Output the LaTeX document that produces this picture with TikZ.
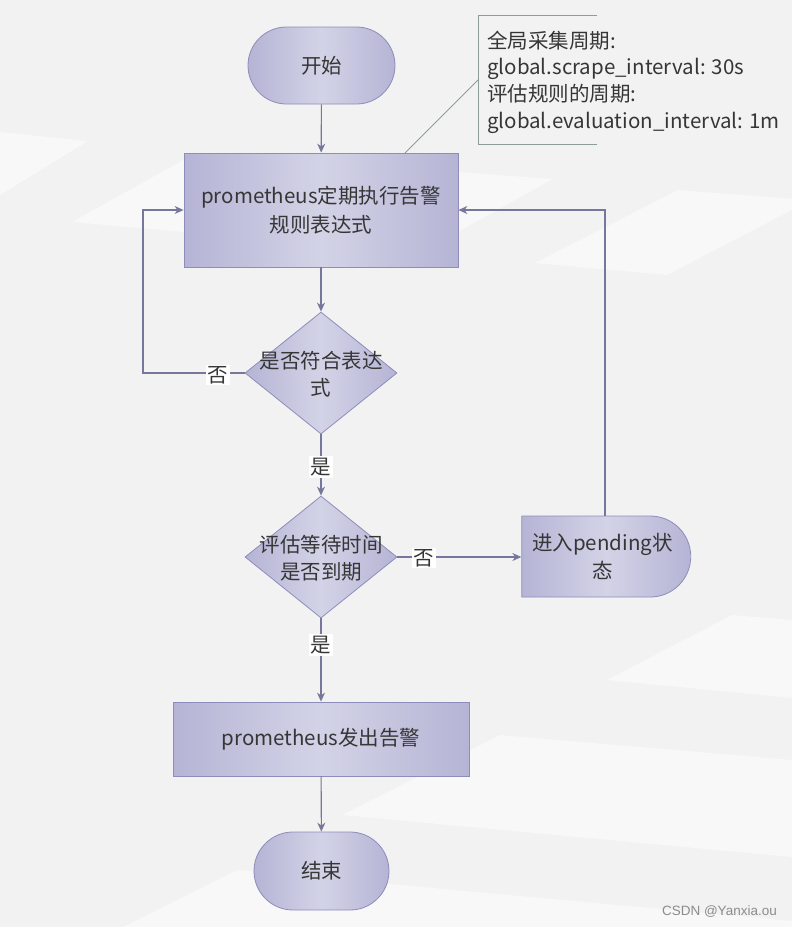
\documentclass[tikz,border=0pt]{standalone}
\usepackage{fontspec}
\setmainfont{Noto Sans CJK SC}
\newfontfamily\wmfont{Liberation Sans}
\usetikzlibrary{shapes.geometric,shapes.misc,arrows.meta}
\definecolor{bg}{HTML}{F2F2F2}
\definecolor{band}{HTML}{F8F8F8}
\definecolor{nEdge}{HTML}{B5B4D5}
\definecolor{nMid}{HTML}{D3D3E7}
\definecolor{nBorder}{HTML}{8E8CBA}
\definecolor{conn}{HTML}{77779C}
\definecolor{txt}{HTML}{363636}
\definecolor{notec}{HTML}{8C9C98}
\definecolor{wm}{HTML}{8C8C8C}
\begin{document}
\begin{tikzpicture}[x=1pt,y=-1pt,
  fillshade/.style={left color=nEdge,right color=nEdge,middle color=nMid},
  base/.style={draw=nBorder,line width=0.8pt,fillshade,text=txt,font=\fontsize{20.5}{28.5}\selectfont,align=center,inner sep=0pt},
  terminal/.style={base,rounded rectangle,minimum height=77pt},
  procbox/.style={base,rectangle},
  decision/.style={base,diamond,minimum width=152pt,minimum height=122pt},
  dtext/.style={text=txt,font=\fontsize{20.5}{27}\selectfont,align=center,inner sep=0pt},
  lab/.style={fill=white,text=txt,font=\fontsize{20.5}{24}\selectfont,inner sep=1.5pt},
  arr/.style={draw=conn,line width=1.1pt,-{Stealth[length=9pt,width=8pt]}},
  notetext/.style={text=txt,font=\fontsize{20.5}{26.7}\selectfont,align=left,inner sep=0pt,anchor=west},
]
\useasboundingbox (0,0) rectangle (792,927);
% background
\fill[bg] (0,0) rectangle (792,927);
\fill[band] (0,132) -- (88,141) -- (0,195) -- cycle;
\fill[band] (196,153) -- (553,179) -- (420,253) -- (72,222) -- cycle;
\fill[band] (535,263) -- (678,190) -- (792,199) -- (792,210) -- (667,275) -- cycle;
\fill[band] (607,680) -- (732,615) -- (792,620) -- (792,698) -- cycle;
\fill[band] (500,735) -- (792,760) -- (792,857) -- (342,815) -- cycle;
\fill[band] (237,870) -- (792,921) -- (792,927) -- (123,927) -- cycle;

% nodes
\node[terminal,minimum width=147pt] (start) at (321.5,65.5) {开始};
\node[procbox,minimum width=274pt,minimum height=114pt] (proc) at (321,210) {prometheus定期执行告警\\规则表达式};
\node[decision] (d1) at (321,373) {};
\node[dtext] (d1t) at (321,374) {是否符合表达\\式};
\node[decision] (d2) at (321,557) {};
\node[dtext] (d2t) at (321,558) {评估等待时间\\是否到期};
\node[base,rounded rectangle,rounded rectangle left arc=none,minimum width=169pt,minimum height=81pt] (pend) at (602.5,556.5) {进入pending状\\态};
\node[procbox,minimum width=296pt,minimum height=74pt] (alert) at (321,739) {prometheus发出告警};
\node[terminal,minimum width=135pt,minimum height=78pt] (end) at (321.5,871) {结束};

% annotation
\draw[notec,line width=0.9pt] (597,15) -- (478,15) -- (478,144) -- (597,144);
\coordinate (na) at (478,80);
\coordinate (nb) at (405,153);
\draw[notec,line width=0.8pt] (na) -- (nb);
\node[notetext] (note) at (487,82) {全局采集周期:\\global.scrape\_interval: 30s\\评估规则的周期:\\global.evaluation\_interval: 1m};

% connectors
\coordinate (lx) at (143,0);
\draw[arr] (start) -- (proc);
\draw[arr] (proc) -- (d1);
\draw[arr] (d1.west) -- (d1.west -| lx) |- (proc.west);
\node[lab] (no1) at (218,375) {否};
\draw[arr] (d1.south) -- (d2.north);
\node[lab] (yes1) at (321,467) {是};
\draw[arr] (d2.east) -- (d2.east -| pend.west);
\node[lab] (no2) at (424,558) {否};
\draw[arr] ([xshift=2.5pt]pend.north) |- (proc.east);
\draw[arr] (d2.south) -- (alert.north);
\node[lab] (yes2) at (321,645) {是};
\draw[arr] (alert) -- (end);

% watermark
\node[text=wm,font=\wmfont\fontsize{13.5}{15}\selectfont,anchor=east,inner sep=0pt] (wmk) at (777,912) {CSDN @Yanxia.ou};
\end{tikzpicture}
\end{document}
